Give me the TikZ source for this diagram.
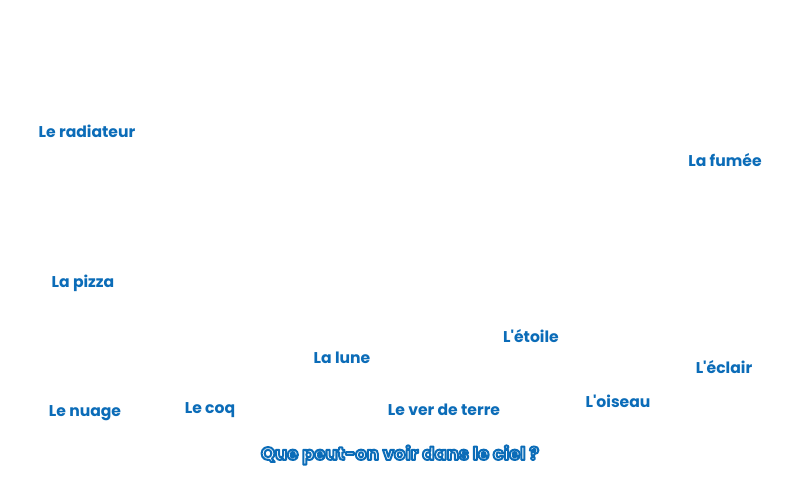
\documentclass[tikz,border=0pt]{standalone}
\usepackage{fontspec}
\setmainfont{Poppins}[UprightFont=* Bold, BoldFont=* Bold, Ligatures=TeXOff]
\definecolor{txtblue}{HTML}{0B6CB8}
\tikzset{
  word/.style={text=txtblue, inner sep=0pt, font=\fontsize{15.6}{18}\selectfont},
  titlestyle/.style={inner sep=0pt, font=\fontsize{18}{21}\selectfont}
}
\newcommand{\outlinedtext}[1]{\special{pdf:literal direct q 2 Tr 2 w 1 J 1 j 0.043 0.424 0.722 RG 1 1 1 rg}#1\special{pdf:literal direct Q}}
\begin{document}
\begin{tikzpicture}[x=1pt,y=-1pt]
\useasboundingbox[fill=white] (0,0) rectangle (800,480);
\node[word] (radiateur) at (87,131) {Le radiateur};
\node[word] (fumee) at (725,160) {La fumée};
\node[word] (pizza) at (83,283) {La pizza};
\node[word] (etoile) at (531,336) {L'étoile};
\node[word] (lune) at (342,358) {La lune};
\node[word] (eclair) at (724,367) {L'éclair};
\node[word] (nuage) at (85,413) {Le nuage};
\node[word] (coq) at (210,410) {Le coq};
\node[word] (ver) at (444,410) {Le ver de terre};
\node[word] (oiseau) at (618,401) {L'oiseau};
\node[titlestyle] (title) at (400,455) {\outlinedtext{Que peut-on voir dans le ciel ?}};
\end{tikzpicture}
\end{document}
